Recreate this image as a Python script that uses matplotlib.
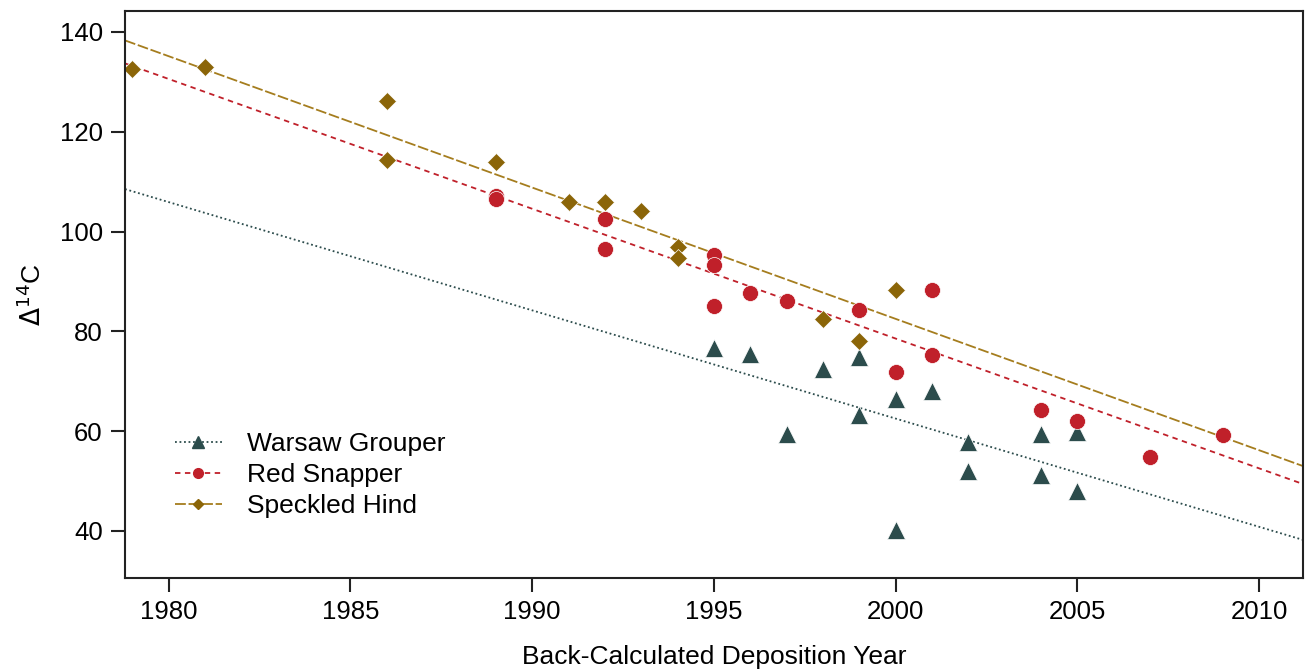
import numpy as np
import matplotlib
matplotlib.use('Agg')
from matplotlib import pyplot as plt

plt.rcParams['font.family'] = ['Liberation Sans', 'DejaVu Sans']

# Warsaw Grouper (triangles)
wg_year = [1995, 1996, 1997, 1998, 1999, 1999, 2000, 2000, 2001, 2002, 2002, 2004, 2004, 2005, 2005]
wg_d14c = [76.7, 75.4, 59.4, 72.5, 74.9, 63.2, 66.5, 40.1, 68.0, 57.9, 51.9, 59.4, 51.2, 59.9, 47.9]

# Red Snapper (circles)
rs_year = [1989, 1989, 1992, 1992, 1995, 1995, 1995, 1996, 1997, 1999, 2000, 2001, 2001, 2004, 2005, 2007, 2009]
rs_d14c = [107.2, 106.6, 102.6, 96.4, 95.2, 93.3, 85.0, 87.7, 86.0, 84.3, 71.9, 88.3, 75.3, 64.2, 62.0, 54.9, 59.3]

# Speckled Hind (diamonds)
sh_year = [1979, 1981, 1986, 1986, 1989, 1991, 1992, 1993, 1994, 1994, 1998, 1999, 2000]
sh_d14c = [132.5, 133.0, 126.2, 114.4, 114.0, 105.9, 106.0, 104.2, 96.8, 94.7, 82.5, 78.1, 88.2]

# fitted lines read at the axis ends
fit_year = [1978.8, 2011.2]
wg_fit = [108.5, 38.2]
rs_fit = [133.7, 49.4]
sh_fit = [138.3, 53.0]

c_wg = '#2c4c4c'
c_rs = '#c0202a'
c_sh = '#8b6508'
c_sh_line = '#a57d1e'

fig = plt.figure(figsize=(13.08, 6.71), dpi=100)
ax = fig.add_axes([0.0956, 0.139, 0.9004, 0.8446])

ax.plot(fit_year, wg_fit, color=c_wg, ls=(0, (1, 1.5)), lw=1.3)
ax.plot(fit_year, rs_fit, color=c_rs, ls=(0, (3, 2.5)), lw=1.3)
ax.plot(fit_year, sh_fit, color=c_sh_line, ls=(0, (6, 1.5)), lw=1.3)

ax.plot(wg_year, wg_d14c, ls='none', marker='^', ms=13, color=c_wg, mec='white', mew=0.5)
ax.plot(rs_year, rs_d14c, ls='none', marker='o', ms=11.5, color=c_rs, mec='white', mew=0.5)
ax.plot(sh_year, sh_d14c, ls='none', marker='D', ms=9, color=c_sh, mec='white', mew=0.5)

# legend proxies
h1, = ax.plot([], [], color=c_wg, ls=(0, (1, 1.5)), lw=1.3, marker='^', ms=8)
h2, = ax.plot([], [], color=c_rs, ls=(0, (3, 2.5)), lw=1.3, marker='o', ms=7)
h3, = ax.plot([], [], color=c_sh_line, ls=(0, (6, 1.5)), lw=1.3, marker='D', ms=5, mfc=c_sh, mec=c_sh)
ax.legend([h1, h2, h3], ['Warsaw Grouper', 'Red Snapper', 'Speckled Hind'],
          loc='lower left', bbox_to_anchor=(0.022, 0.063), frameon=False,
          fontsize=19, handlelength=1.8, labelspacing=0.27, handletextpad=0.95)

ax.set_xlim(1978.8, 2011.2)
ax.set_ylim(30.6, 144.2)
ax.set_xticks([1980, 1985, 1990, 1995, 2000, 2005, 2010])
ax.set_yticks([40, 60, 80, 100, 120, 140])
ax.tick_params(labelsize=18.5, length=10, width=1.5, pad=6, color='#222222')
ax.set_xlabel('Back-Calculated Deposition Year', fontsize=19, labelpad=15)
ax.set_ylabel(r'$\Delta^{14}$C', fontsize=19, labelpad=10)
for s in ax.spines.values():
    s.set_linewidth(1.5)
    s.set_color('#222222')

fig.savefig('out.png', dpi=100)
